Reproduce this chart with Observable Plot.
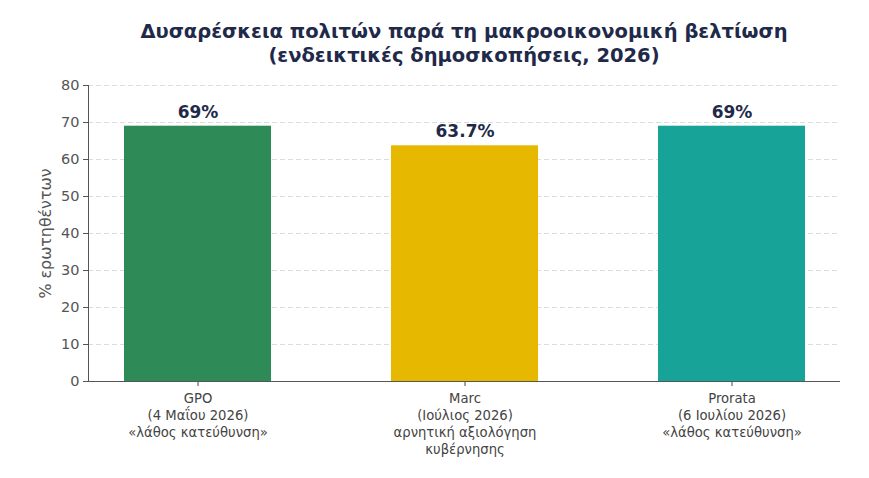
<!DOCTYPE html>
<html>
<head>
<meta charset="utf-8">
<script src="https://cdn.jsdelivr.net/npm/d3@7"></script>
<script src="https://cdn.jsdelivr.net/npm/@observablehq/plot@0.6"></script>
<style>
  html, body { margin: 0; padding: 0; background: #fff; }
  #title {
    font-family: "DejaVu Sans", sans-serif;
    font-weight: bold;
    font-size: 19.5px;
    line-height: 24px;
    color: #1f2a4a;
    text-align: center;
    padding: 20px 29px 7px 88px;
    height: 48px;
  }
</style>
</head>
<body>
<div id="title">Δυσαρέσκεια πολιτών παρά τη μακροοικονομική βελτίωση<br>(ενδεικτικές δημοσκοπήσεις, 2026)</div>
<div id="chart"></div>
<script>
const pollsters = ["GPO", "Marc", "Prorata"];
const dates = ["(4 Μαΐου 2026)", "(Ιούλιος 2026)", "(6 Ιουλίου 2026)"];
const notes = ["«λάθος κατεύθυνση»", "αρνητική αξιολόγηση\nκυβέρνησης", "«λάθος κατεύθυνση»"];
const values = [69, 63.7, 69];
const colors = ["#2e8a57", "#e6b800", "#18a398"];
const yTicks = [0, 10, 20, 30, 40, 50, 60, 70, 80];
const yLabel = "% ερωτηθέντων";

const labels = pollsters.map((p, i) => `${p}\n${dates[i]}\n${notes[i]}`);
const data = pollsters.map((p, i) => ({label: labels[i], value: values[i], color: colors[i]}));

const chart = Plot.plot({
  width: 869,
  height: 403,
  marginTop: 10,
  marginBottom: 97,
  marginLeft: 88,
  marginRight: 29,
  style: {fontFamily: "DejaVu Sans", fontSize: "14px", background: "white"},
  x: {type: "band", domain: labels, paddingInner: 0.45, paddingOuter: 0.128, align: 0.5},
  y: {domain: [0, 80]},
  color: {type: "identity"},
  marks: [
    Plot.ruleY(yTicks.filter(t => t > 0), {stroke: "#dcdcdc", strokeDasharray: "5,3"}),
    Plot.barY(data, {x: "label", y: "value", fill: "color"}),
    Plot.text(data, {x: "label", y: "value", text: d => d.value + "%", dy: -14, fontWeight: "bold", fontSize: 17, fill: "#1f2a4a"}),
    Plot.axisY({ticks: yTicks, tickSize: 5, tickPadding: 4, fontSize: 14.5, color: "#555", label: null}),
    Plot.text([yLabel], {frameAnchor: "left", textAnchor: "middle", rotate: -90, dx: -43, fontSize: 15.8, fill: "#555"}),
    Plot.axisX({tickSize: 5, tickPadding: 5, fontSize: 13.2, lineHeight: 1.27, color: "#444", label: null}),
    Plot.frame({anchor: "left", stroke: "#555"}),
    Plot.ruleY([0], {stroke: "#555"})
  ]
});
document.getElementById("chart").appendChild(chart);
</script>
</body>
</html>
